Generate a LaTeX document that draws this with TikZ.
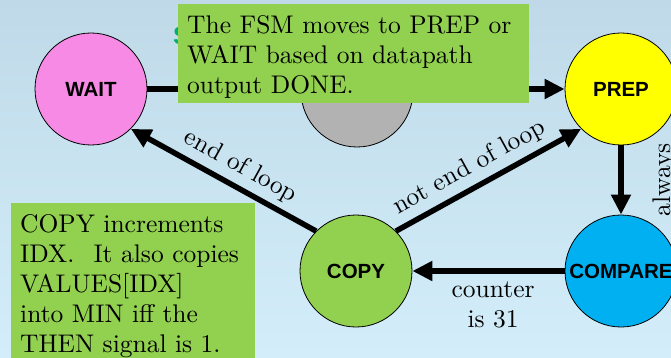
\documentclass[tikz,border=0pt]{standalone}
\usepackage{fontspec}
\setmainfont{lmroman10-regular}[Extension=.otf]
\newfontfamily\statefont{Liberation Sans}
\usetikzlibrary{arrows.meta}

\definecolor{waitpink}{RGB}{246,138,228}
\definecolor{prepyellow}{RGB}{255,255,0}
\definecolor{midgray}{RGB}{178,178,178}
\definecolor{copygreen}{RGB}{146,208,80}
\definecolor{comparecyan}{RGB}{0,176,240}
\definecolor{notegreen}{RGB}{146,208,80}
\definecolor{bgtop}{RGB}{191,217,232}
\definecolor{bgbottom}{RGB}{211,238,250}
\definecolor{titlegreen}{RGB}{0,176,110}

\begin{document}
\begin{tikzpicture}[x=1pt,y=-1pt,
  state/.style={circle, draw=black, line width=0.8pt, minimum size=112pt,
    inner sep=0pt, font=\statefont\bfseries\fontsize{20.5}{24}\selectfont},
  trans/.style={line width=5.5pt, -{Triangle[length=20pt,width=19pt]}},
  lbl/.style={font=\fontsize{25.5}{30}\selectfont, inner sep=2pt},
  notebox/.style={fill=notegreen, draw=none, inner sep=0pt, anchor=north west},
  notetext/.style={font=\fontsize{25.5}{30}\selectfont, align=left,
    inner sep=0pt, anchor=north west}
]
% background
\fill[top color=bgtop, bottom color=bgbottom] (0,0) rectangle (671,358);
\useasboundingbox (0,0) rectangle (671,358);
\clip (0,0) rectangle (671,358);

% title (mostly covered by the note)
\node[font=\statefont\bfseries\fontsize{25}{30}\selectfont, text=titlegreen,
  anchor=base west, inner sep=0pt] (title) at (173,45) {S};

% states
\node[state, fill=waitpink] (wait) at (91,89) {WAIT};
\node[state, fill=midgray] (mid) at (357,91) {};
\node[state, fill=prepyellow] (prep) at (621,89) {PREP};
\node[state, fill=copygreen] (copy) at (356,271) {COPY};
\node[state, fill=comparecyan] (compare) at (621,271) {COMPARE};

% transitions
\draw[trans] (wait.east) -- (prep.west);
\draw[trans] (prep.south) -- (compare.north);
\draw[trans] (compare.west) -- (copy.east)
  node[lbl, pos=0.47, below=6pt, align=center] (cntlbl) {counter\\is 31};
\draw[trans] (copy.135) -- (wait.-45)
  node[lbl, pos=0.46, sloped, above=4pt] (endlbl) {end of loop};
\draw[trans] (copy.45) -- (prep.-135)
  node[lbl, pos=0.45, sloped, above=4pt] (notendlbl) {not end of loop};
\node[lbl, rotate=90, anchor=base] (always) at (670,180) {always};

% notes
\node[notebox, minimum width=351pt, minimum height=99pt] (note1) at (178,4) {};
\node[notetext] (note1text) at (187,15.3)
  {The FSM moves to PREP or\\WAIT based on datapath\\output DONE.};
\node[notebox, minimum width=244pt, minimum height=170pt] (note2) at (11,203) {};
\node[notetext] (note2text) at (20,214.6)
  {COPY increments\\IDX.\hspace{0.75em}It also copies\\VALUES[IDX]\\into MIN iff the\\THEN signal is 1.};
\end{tikzpicture}
\end{document}
